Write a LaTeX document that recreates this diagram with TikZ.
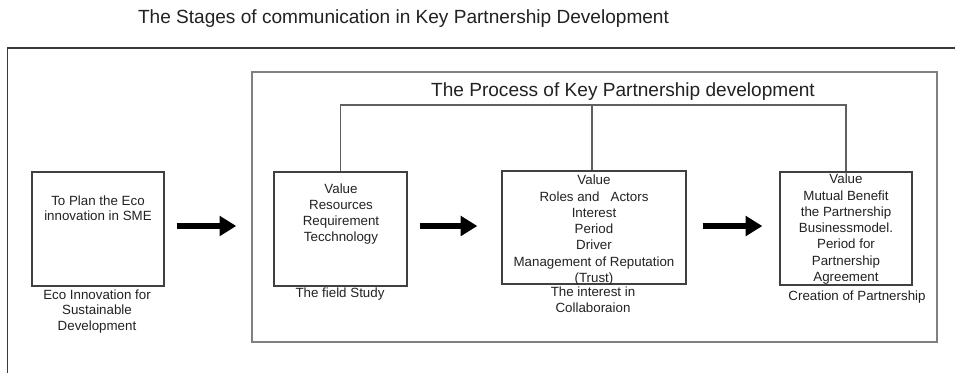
\documentclass[tikz,border=0pt]{standalone}
\usepackage{fontspec}
\setmainfont{Liberation Sans}
\usetikzlibrary{arrows.meta}
\definecolor{txt}{HTML}{222222}
\definecolor{frame}{HTML}{3A3A3A}
\definecolor{inframe}{HTML}{808080}
\definecolor{boxline}{HTML}{404040}
\definecolor{conn}{HTML}{606060}
\tikzset{
  stagebox/.style={draw=boxline, line width=1pt, rectangle, inner sep=0pt},
  boxtext/.style={anchor=base, align=center, inner sep=0pt, text=txt, font=\fontsize{10}{12.2}\selectfont},
  titletext/.style={anchor=base, inner sep=0pt, text=txt, font=\fontsize{14.3}{17}\selectfont},
  bigarrow/.style={line width=4.5pt, draw=black, -{Triangle[length=12.5pt,width=14.5pt]}},
  connline/.style={draw=conn, line width=0.8pt}
}
\begin{document}
\begin{tikzpicture}[x=0.75pt,y=-0.75pt]
\useasboundingbox (0,0) rectangle (955,373);
\clip (0,0) rectangle (955,373);
\fill[white] (0,0) rectangle (955,373);
% titles
\node[titletext] (title) at (403.5,24) {The Stages of communication in Key Partnership Development};
% outer frame (runs off the page on right and bottom)
\draw[draw=frame, line width=1.4pt] (970,48) -- (7.5,48) -- (7.5,390);
% inner frame
\node[draw=inframe, line width=1.1pt, rectangle, inner sep=0pt, minimum width=685*0.75pt, minimum height=270*0.75pt] (inner) at (594.5,207) {};
\node[titletext] (ptitle) at (623,96.5) {The Process of Key Partnership development};
% boxes
\node[stagebox, minimum width=132*0.75pt, minimum height=114*0.75pt] (b1) at (98,229) {};
\node[stagebox, minimum width=133*0.75pt, minimum height=114*0.75pt] (b2) at (340.5,229) {};
\node[stagebox, minimum width=184*0.75pt, minimum height=113*0.75pt] (b3) at (594,227.5) {};
\node[stagebox, minimum width=132*0.75pt, minimum height=113*0.75pt] (b4) at (846,228.5) {};
% box texts (anchor base = baseline of last line)
\node[boxtext, font=\fontsize{10}{11.3}\selectfont] (t1) at (98,221) {To Plan the Eco\\innovation in SME};
\node[boxtext] (t2) at (341,242) {Value\\Resources\\Requirement\\Tecchnology};
\node[boxtext] (t3) at (594,282.5) {Value\\Roles and \ \ Actors\\Interest\\Period\\Driver\\Management of Reputation\\(Trust)};
\node[boxtext] (t4) at (846,281.5) {Value\\Mutual Benefit\\the Partnership\\Businessmodel.\\Period for\\Partnership\\Agreement};
% labels under boxes
\node[boxtext, font=\fontsize{10}{11.6}\selectfont] (l1) at (97,330) {Eco Innovation for\\Sustainable\\Development};
\node[boxtext] (l2) at (340,298) {The field Study};
\node[boxtext] (l3) at (593,313) {The interest in\\Collaboraion};
\node[boxtext] (l4) at (857,301) {Creation of Partnership};
% bracket connectors
\coordinate (bar) at (0,105);
\draw[connline] (b2.north) -- (b2.north |- bar) -| (b4.north);
\draw[connline] ([xshift=-1.5pt]b3.north) -- ([xshift=-1.5pt]b3.north |- bar);
% arrows
\draw[bigarrow, shorten <=9pt, shorten >=11.25pt] ([yshift=2.25pt]b1.east) -- ([yshift=2.25pt]b1.east -| inner.west);
\draw[bigarrow, shorten <=9pt, shorten >=18pt] ([yshift=2.25pt]b2.east) -- ([yshift=2.25pt]b2.east -| b3.west);
\draw[bigarrow, shorten <=12pt, shorten >=12.75pt] ([yshift=1.1pt]b3.east) -- ([yshift=1.1pt]b3.east -| b4.west);
\end{tikzpicture}
\end{document}
